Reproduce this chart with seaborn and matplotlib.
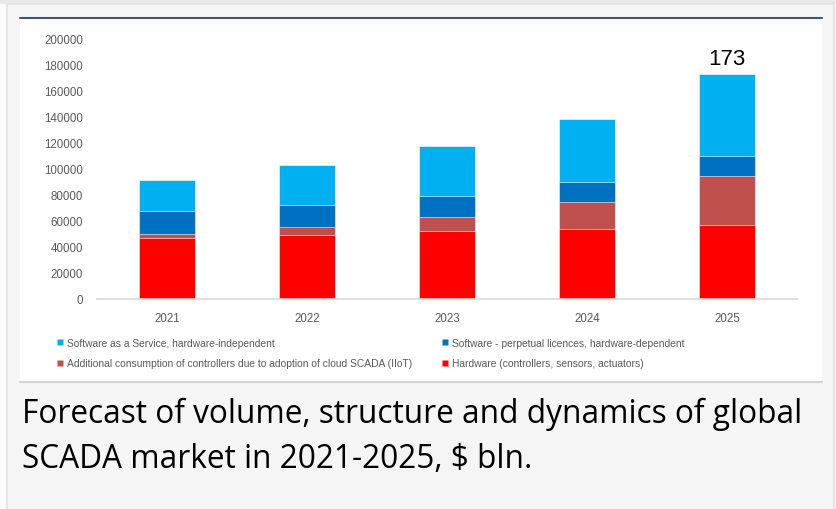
import pandas as pd
import matplotlib.pyplot as plt
import seaborn as sns
import numpy as np
from matplotlib.patches import Rectangle
from matplotlib.lines import Line2D

years = ['2021', '2022', '2023', '2024', '2025']
hardware = [47000, 49500, 52000, 54000, 57000]
additional = [3000, 6000, 11000, 20500, 38000]
perpetual = [17500, 17000, 16500, 15500, 15000]
saas = [24000, 30500, 38000, 48500, 63000]
series_names = ['Software as a Service, hardware-independent',
                'Software - perpetual licences, hardware-dependent',
                'Additional consumption of controllers due to adoption of cloud SCADA (IIoT)',
                'Hardware (controllers, sensors, actuators)']
series_colors = ['#00b0f0', '#0070c0', '#c0504d', '#ff0000']
total_label = '173'
caption_lines = ['Forecast of volume, structure and dynamics of global',
                 'SCADA market in 2021-2025, $ bln.']

W, H = 836, 510
sns.set_theme(style='white')
plt.rcParams['font.family'] = ['Liberation Sans', 'DejaVu Sans']

fig = plt.figure(figsize=(W / 100, H / 100), dpi=100, facecolor='#fbfbfb')

def px_rect(x0, y0, x1, y1, **kw):
    # rectangle in pixel coords (top-left origin)
    fig.patches.append(Rectangle((x0 / W, 1 - y1 / H), (x1 - x0) / W, (y1 - y0) / H,
                                 transform=fig.transFigure, zorder=-2, **kw))

px_rect(0, 0, W, 5, facecolor='#e9e9e9', edgecolor='none')
px_rect(7, 5, 834, H + 2, facecolor='#f5f5f5', edgecolor='#e2e2e2', linewidth=1.2)
px_rect(20, 18, 822, 383, facecolor='white', edgecolor='none')
fig.add_artist(Line2D([20 / W, 822 / W], [1 - 19 / H, 1 - 19 / H], transform=fig.transFigure,
                      color='#44546a', linewidth=1.5, zorder=-1))
fig.add_artist(Line2D([20 / W, 822 / W], [1 - 383 / H, 1 - 383 / H], transform=fig.transFigure,
                      color='#d4d4d4', linewidth=1.5, zorder=-1))

ax = fig.add_axes([97 / W, (H - 300) / H, 700 / W, 260 / H])
ax.set_zorder(5)
ax.patch.set_alpha(0)

df = pd.DataFrame({'year': years, 'hardware': hardware, 'additional': additional,
                   'perpetual': perpetual, 'saas': saas})
df['c_hw'] = df['hardware']
df['c_add'] = df['c_hw'] + df['additional']
df['c_perp'] = df['c_add'] + df['perpetual']
df['c_saas'] = df['c_perp'] + df['saas']

for col, color in zip(['c_saas', 'c_perp', 'c_add', 'c_hw'], series_colors):
    sns.barplot(data=df, x='year', y=col, color=color, saturation=1, width=0.4,
                edgecolor='white', linewidth=0.4, ax=ax)

ax.set_ylim(0, 200000)
ax.set_yticks(np.arange(0, 200001, 20000))
ax.set_yticklabels([str(v) for v in range(0, 200001, 20000)])
ax.set_xlabel('')
ax.set_ylabel('')
for s in ['top', 'right', 'left']:
    ax.spines[s].set_visible(False)
ax.spines['bottom'].set_color('#d9d9d9')
ax.spines['bottom'].set_linewidth(1.2)
ax.tick_params(axis='both', length=0, labelsize=8.3, colors='#595959')
ax.tick_params(axis='y', pad=10)
ax.tick_params(axis='x', pad=9.5)

ax.annotate(total_label, (4, df['c_saas'].iloc[-1]), xytext=(0, 4), textcoords='offset points',
            ha='center', va='bottom', fontsize=16, color='black',
            family=['Liberation Sans Narrow', 'Liberation Sans'])

# two legend columns placed separately
for idxs, x0 in [([0, 2], 57), ([1, 3], 442)]:
    handles = [Line2D([], [], marker='s', linestyle='none', markersize=4.5,
                      markerfacecolor=series_colors[i], markeredgecolor='none') for i in idxs]
    leg = fig.legend(handles, [series_names[i] for i in idxs], loc='upper left',
                     bbox_to_anchor=(x0 / W, 1 - 339 / H), frameon=False, fontsize=7.35,
                     labelcolor='#595959', handlelength=0.6, handletextpad=0.35,
                     labelspacing=1.0, borderaxespad=0, borderpad=0)
    leg.set_zorder(6)

for k, line in enumerate(caption_lines):
    fig.text(22 / W, 1 - (423 + 45 * k) / H, line, ha='left', va='baseline', fontsize=22.8,
             family=['Open Sans', 'DejaVu Sans'], color='black')

fig.savefig('out.png', dpi=100, facecolor=fig.get_facecolor())
